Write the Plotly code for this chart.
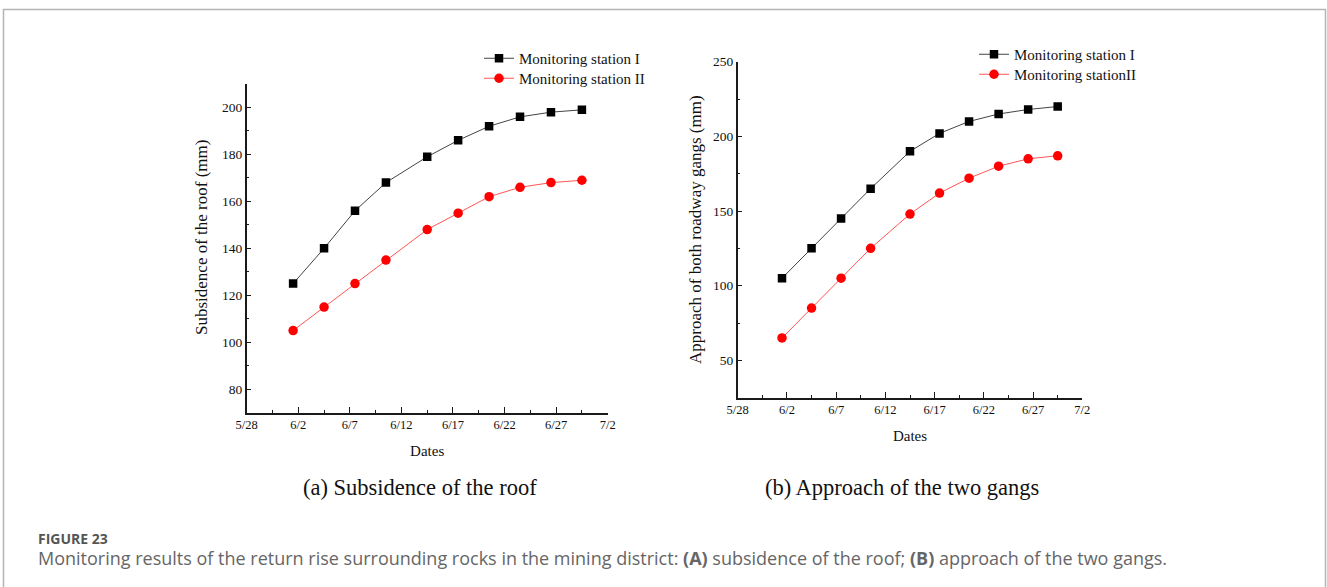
import plotly.graph_objects as go
import pandas as pd

# ---- data ----
dates = ["2021-06-01 12:00", "2021-06-04 12:00", "2021-06-07 12:00", "2021-06-10 12:00",
         "2021-06-14 12:00", "2021-06-17 12:00", "2021-06-20 12:00", "2021-06-23 12:00",
         "2021-06-26 12:00", "2021-06-29 12:00"]
roof_station1 = [125, 140, 156, 168, 179, 186, 192, 196, 198, 199]
roof_station2 = [105, 115, 125, 135, 148, 155, 162, 166, 168, 169]
gang_station1 = [105, 125, 145, 165, 190, 202, 210, 215, 218, 220]
gang_station2 = [65, 85, 105, 125, 148, 162, 172, 180, 185, 187]
tick_dates = pd.date_range("2021-05-28", "2021-07-02", freq="5D")
tick_labels = [f"{d.month}/{d.day}" for d in tick_dates]
minor_dates = tick_dates[:-1] + pd.Timedelta(hours=60)

W, H = 1327, 587
SERIF = "Liberation Serif, Times New Roman, serif"
SANS = "Open Sans, Noto Sans, sans-serif"
AX = "#1a1a1a"
TXT = "#111"

def px(x):
    return x / W

def py(y):
    return 1 - y / H

fig = go.Figure()

black_line = dict(color="#444444", width=1)
red_line = dict(color="#ff5555", width=1)
sq = dict(symbol="square", size=8.5, color="black")
ci = dict(symbol="circle", size=9.5, color="red")

fig.add_trace(go.Scatter(x=dates, y=roof_station1, mode="lines+markers", name="Monitoring station I",
                         line=black_line, marker=sq, xaxis="x", yaxis="y", legend="legend"))
fig.add_trace(go.Scatter(x=dates, y=roof_station2, mode="lines+markers", name="Monitoring station II",
                         line=red_line, marker=ci, xaxis="x", yaxis="y", legend="legend2"))
fig.add_trace(go.Scatter(x=dates, y=gang_station1, mode="lines+markers", name="Monitoring station I",
                         line=black_line, marker=sq, xaxis="x2", yaxis="y2", legend="legend3"))
fig.add_trace(go.Scatter(x=dates, y=gang_station2, mode="lines+markers", name="Monitoring stationII",
                         line=red_line, marker=ci, xaxis="x2", yaxis="y2", legend="legend4"))

def xaxis(domain, anchor):
    return dict(
        domain=domain, anchor=anchor, type="date",
        range=[tick_dates[0], tick_dates[-1]],
        tickmode="array", tickvals=list(tick_dates), ticktext=tick_labels,
        ticks="inside", ticklen=6, tickwidth=1.3, tickcolor=AX,
        minor=dict(tickmode="array", tickvals=list(minor_dates), ticks="inside",
                   ticklen=3, tickwidth=1.3, tickcolor=AX),
        showline=True, linecolor=AX, linewidth=1.5,
        showgrid=False, zeroline=False, automargin=False,
        tickfont=dict(family=SERIF, size=12.5, color=TXT),
        title=dict(text="Dates", font=dict(family=SERIF, size=15, color=TXT), standoff=14),
    )

def yaxis(domain, anchor, rng, dtick):
    return dict(
        domain=domain, anchor=anchor, range=rng, dtick=dtick, tick0=0,
        ticks="inside", ticklen=5, tickwidth=1.3, tickcolor=AX,
        minor=dict(dtick=dtick / 2, ticks="inside", ticklen=3, tickwidth=1.3, tickcolor=AX),
        showline=True, linecolor=AX, linewidth=1.5,
        showgrid=False, zeroline=False, automargin=False,
        tickfont=dict(family=SERIF, size=13.5, color=TXT),
    )

def legend_at(x_text, y_row):
    # x_text: left edge of the legend text, y_row: centre of the row (pixels)
    return dict(
        x=px(x_text - 40), y=py(y_row - 17),
        font=dict(family=SERIF, size=15, color=TXT),
        bgcolor="rgba(0,0,0,0)", borderwidth=0, xanchor="left", yanchor="top",
        tracegroupgap=0, itemwidth=30,
    )

fig.update_layout(
    width=W, height=H, autosize=False,
    margin=dict(l=0, r=0, t=0, b=0),
    paper_bgcolor="white", plot_bgcolor="white",
    xaxis=xaxis([px(246.7), px(607.7)], "y"),
    yaxis=yaxis([py(412.7), py(84)], "x", [70, 210], 20),
    xaxis2=xaxis([px(737.7), px(1082.3)], "y2"),
    yaxis2=yaxis([py(397.7), py(61.7)], "x2", [25, 250], 50),
    legend=legend_at(519, 59),
    legend2=legend_at(519, 79),
    legend3=legend_at(1014, 55),
    legend4=legend_at(1014, 75),
    showlegend=True,
)

# frame around the figure (top, left, right)
fig.add_shape(type="path", xref="paper", yref="paper",
              path=f"M {px(3.5)} 0 L {px(3.5)} {py(9.5)} L {px(1325.5)} {py(9.5)} L {px(1325.5)} 0",
              line=dict(color="#b5b5b5", width=1.5))

def note(x, y, text, size, family=SERIF, color=TXT, xanchor="center", angle=0):
    fig.add_annotation(x=px(x), y=py(y), xref="paper", yref="paper", showarrow=False,
                       xanchor=xanchor, yanchor="middle", textangle=angle, text=text,
                       font=dict(family=family, size=size, color=color))

# y-axis titles
note(201, 238, "Subsidence of the roof (mm)", 17, angle=-90)
note(695, 230, "Approach of both roadway gangs (mm)", 17, angle=-90)

# subplot captions
note(420, 487, "(a) Subsidence of the roof", 22.5)
note(902, 487, "(b) Approach of the two gangs", 22.5)

# figure caption
note(36, 538, "<b>FIGURE 23</b>", 14, family=SANS, color="#555", xanchor="left")
note(36, 558,
     "Monitoring results of the return rise surrounding rocks in the mining district: "
     "<b>(A)</b> subsidence of the roof; <b>(B)</b> approach of the two gangs.",
     18, family=SANS, color="#666", xanchor="left")

fig.write_html("out.html")
